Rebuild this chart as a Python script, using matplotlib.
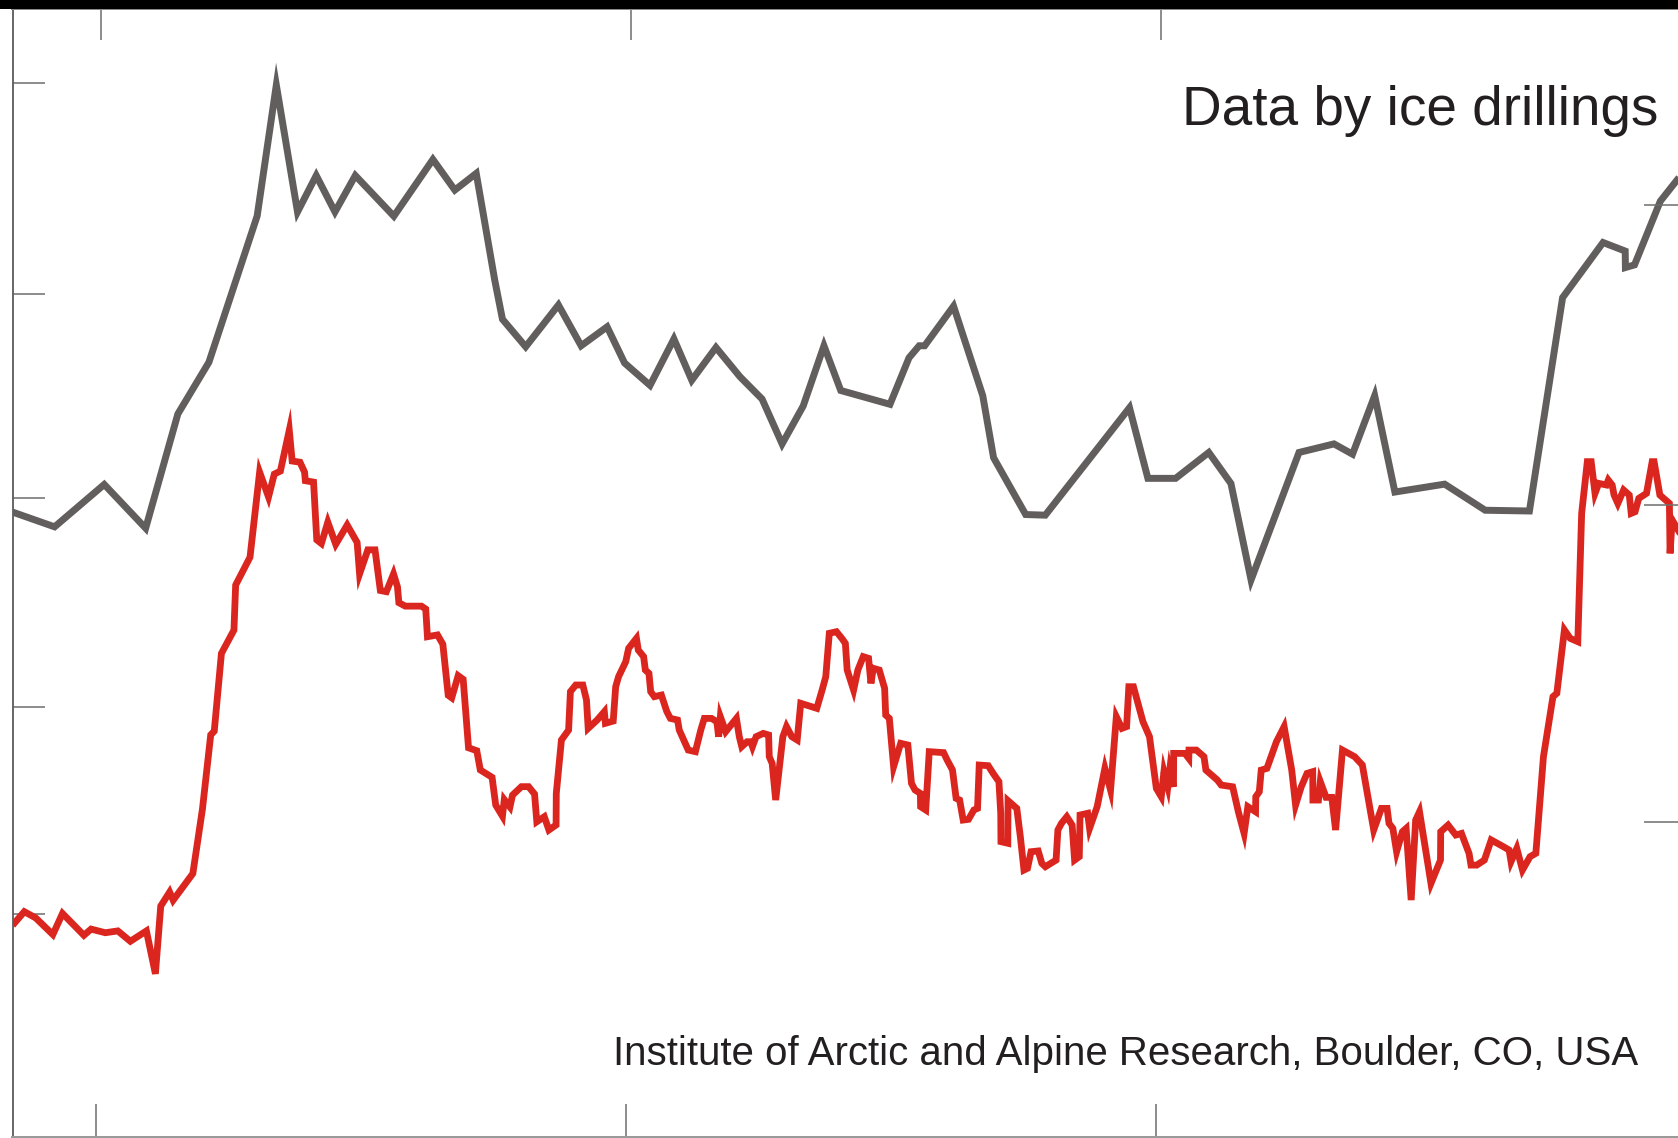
import matplotlib
matplotlib.use("Agg")
import matplotlib.pyplot as plt
from matplotlib.patches import Rectangle

# ---- data (time in arbitrary units, values in arbitrary units) ----
co2_t = [11.7, 51, 97.4, 136.1, 166.2, 195.2, 240.3, 258.2, 278, 295.5, 313, 332,
         368, 404.5, 425, 445, 462.2, 469.5, 491.2, 521.8, 543, 567.3, 583.6, 607.4,
         629.7, 646.4, 669, 691.5, 712.1, 730.8, 750.5, 769.9, 785.6, 831.6, 849.4,
         858.9, 864, 891, 918.3, 928.4, 958.4, 976.7, 1055.4, 1072.6, 1098.5, 1129.5,
         1150.2, 1169, 1213.8, 1246.5, 1263.8, 1284.5, 1303.4, 1349.9, 1387.8, 1429.1,
         1460.1, 1497.9, 1518.6, 1518.8, 1527.3, 1551.4, 1568, 1580]
co2_v = [584.5, 570.7, 610.3, 569.4, 676.2, 724.5, 861.2, 983.5, 865, 899, 865, 899,
         861, 914, 885.4, 901, 801.7, 764.7, 739, 778, 739.9, 757.6, 723.8, 702.9,
         746.3, 707.7, 738.3, 710.9, 690.1, 648.2, 683.6, 739.9, 698.1, 685.2, 728.7,
         739.9, 739.9, 776.9, 693.2, 635.3, 582.2, 581.6, 682, 616, 616, 640.2,
         611.2, 521.1, 640.2, 648.2, 638.6, 693.3, 603.2, 610.6, 586.2, 585.5,
         784.9, 836.4, 828.4, 813, 815.5, 875, 896, 909]

temp_t = [11.7, 22.7, 33.4, 49.4, 58.4, 78.4, 85.1, 98.4, 110.1, 121.8, 136.8, 145.2,
          150.2, 158.5, 161.8, 180.2, 189.2, 196.9, 200.2, 206.9, 218.6, 220.2, 233.6,
          242.6, 250.9, 256.3, 262, 270.3, 273, 280.3, 284.6, 285.3, 293, 296, 300.3,
          306.3, 313.7, 324.4, 333.7, 336, 343.7, 350.4, 355.4, 361, 367.7, 371.4,
          372.7, 378.7, 393.8, 397.8, 399.4, 408.8, 413.8, 418.8, 422.1, 428.1, 432.8,
          437.8, 445.5, 448.8, 459.8, 463.2, 469.5, 471.2, 476.5, 478.9, 487.2, 493.9,
          499.5, 501.6, 508.6, 512.9, 519.6, 519.8, 524.6, 531.3, 533, 538, 544.6, 548,
          549.6, 558, 564.7, 565.7, 573, 575.3, 578, 584.7, 587.4, 594.7, 596.4, 601.4,
          603, 606.4, 608, 611.4, 618, 623.1, 626.4, 633.1, 634.7, 643.1, 649.8, 654.8,
          658.1, 664.8, 669.8, 671.5, 673.1, 678.1, 688.1, 690.8, 693.1, 698.1, 701.5,
          703.1, 706.5, 713.2, 718.2, 718.8, 721.5, 724.8, 731.5, 734.9, 739.9, 744.9,
          748.2, 758.2, 763.2, 768.2, 771.6, 774.9, 781.6, 786.6, 789.9, 791.6, 797.6,
          801.6, 806.6, 811.6, 813.8, 816, 821.6, 826.6, 827.6, 831, 835, 841.6, 848.3,
          851.7, 855, 860, 860.2, 865, 868.3, 881.7, 885, 890, 893.4, 896.7, 900, 905,
          910, 913.4, 915, 923.4, 928.4, 933.4, 935.1, 935.3, 941.7, 941.9, 950.1,
          953.4, 956.8, 960.1, 963.4, 970.1, 973.5, 976.8, 986.8, 988.5, 991.8, 996.8,
          1001.8, 1004.1, 1008.5, 1009.2, 1016.3, 1018.1, 1025.2, 1032.4, 1037.7,
          1043.1, 1048.4, 1052.7, 1054.8, 1059.1, 1068, 1074.1, 1080.5, 1085.1, 1087.6,
          1091.2, 1093, 1096.5, 1096.7, 1107.2, 1110.8, 1111, 1117.9, 1125, 1126.8,
          1137.5, 1141.1, 1151.8, 1157.1, 1162.5, 1166, 1173.2, 1173.4, 1176.7, 1178.5,
          1183.8, 1192.7, 1199.9, 1207, 1210.6, 1215.9, 1221.3, 1226.6, 1226.8, 1232,
          1233.7, 1239.1, 1244.4, 1248, 1254.4, 1265.8, 1273, 1283.6, 1290.8, 1296.1,
          1297.9, 1301.5, 1305, 1310.4, 1313.9, 1318.6, 1322.8, 1326.4, 1337.1, 1346,
          1346.2, 1353.1, 1360.3, 1365.6, 1372.7, 1374.5, 1379.9, 1387, 1393.4, 1404.8,
          1410.1, 1411.9, 1417.3, 1422.6, 1429.7, 1435.1, 1442.2, 1451.1, 1454.7,
          1461.8, 1467.2, 1474.3, 1477.9, 1483.2, 1486.8, 1490.4, 1493.9, 1501, 1502.8,
          1506.4, 1508.2, 1511.7, 1517.1, 1522.4, 1524.2, 1527.8, 1531.3, 1538.5,
          1543.8, 1545.6, 1551, 1559.9, 1560.5, 1562.5, 1568, 1580]
temp_v = [198.3, 211.1, 205.2, 189.7, 209.4, 189, 194.8, 191.4, 193.1, 183.4, 193.1, 153,
          216.3, 229.4, 221.8, 246.7, 307.2, 376.3, 379.8, 452.4, 474.2, 516.3, 542.3,
          621.8, 598.6, 620, 622.8, 661, 632.2, 631.1, 621.8, 613.8, 612.5, 558.5, 555.1,
          575.1, 554.4, 572.4, 556.1, 526.7, 549.2, 549.2, 511.2, 510.1, 526.7, 514.6,
          499.8, 496.6, 496.6, 493.9, 468, 469.7, 461, 413.3, 410.9, 431.6, 428.2,
          364.2, 361.5, 343.5, 336.6, 310.7, 300.3, 315.8, 308.9, 320, 327.9, 327.9,
          321, 295.1, 299.8, 287.4, 292.1, 321.6, 371.5, 380.8, 416.7, 422.9, 422.9, 408.9,
          382.4, 390.2, 398, 387.1, 389.2, 421.3, 430.7, 444.7, 457.2, 466.5, 455.6, 449.4,
          436.9, 433.8, 416.7, 412, 413.5, 398, 391.7, 390.2, 380.8, 362.1, 360.6, 380.8,
          391.7, 391.7, 388.6, 374.6, 393.3, 379.3, 391.7, 374.6, 365.3, 369.9, 369.9,
          365.3, 374.6, 377.7, 376.2, 355.9, 349.7, 315.4, 374.6, 384, 374.6, 371.5,
          405.8, 402.6, 401.1, 418.2, 430.7, 471.2, 472.7, 466.5, 461.8, 436.9, 418.2,
          436.9, 449.4, 447.8, 424.4, 438.5, 436.9, 419.8, 394.8, 391.7, 346.6, 368.4, 366.8,
          331, 324.8, 321.6, 309.2, 306.1, 360.6, 359.7, 352.8, 343.5, 317, 315.4, 296.7, 297.4,
          306.1, 307.6, 348.1, 347.5, 339.7, 332.6, 303, 276.5, 275, 314.8, 307.6,
          281.2, 250, 251.6, 267.1, 267.8, 256.2, 253.1, 259.3, 287.4, 293.6, 299.8,
          292, 259.3, 262.5, 301.4, 303, 288.9, 309.2, 345, 324.7,
          393.3, 382.4, 384, 421.3, 421.3, 388.6, 374.6, 326.3, 318.5, 341.9,
          327.8, 343.4, 327.8, 359, 359, 354.3, 362.1, 362.1, 355.9, 343.4,
          334.1, 329.4, 327.8, 304.5, 284.2, 309.2, 304.5, 318.5, 323.2, 343.4,
          345, 369.9, 384, 343.4, 310.7, 327.8, 340.3, 341.9, 315.4, 315.4,
          332.6, 317.9, 317.9, 287.4, 362.1, 355.9, 348.1, 287.4, 307.6, 307.6,
          293.6, 288.9, 267.1, 285.8, 288.9, 221.9, 296.7, 304.5, 237.5, 259.3,
          285.8, 292, 282.7, 284.2, 265.5, 254.6, 254.6, 259.3, 278.1, 271.8,
          268.7, 257.8, 270.2, 250, 262.5, 265.6, 355.9, 412, 415.1,
          474.3, 466.5, 463.4, 583.3, 631.6, 631.6, 602, 611.3, 609.8, 614.4,
          609.8, 600.4, 592.6, 605.1, 600.4, 583.3, 584.8, 597.3, 602,
          631.6, 631.6, 600.4, 592.6, 545.9, 577.1, 567.7, 580]

bottom_ticks = [89.4, 585.0, 1080.6]
top_ticks = [94.0, 589.5, 1085.0]
left_ticks = [208.8, 402.3, 597.3, 788.1, 985.35]
right_ticks = [295.2, 590.9, 871.8]

title_text = "Data by ice drillings"
source_text = "Institute of Arctic and Alpine Research, Boulder, CO, USA"

# ---- figure ----
W, H = 1678, 1138
fig = plt.figure(figsize=(W / 100, H / 100), dpi=100)
fig.patch.set_facecolor("white")

ax_left, ax_bottom = 12.5 / W, 1.3 / H
ax_w = (1680 - 12.5) / W
ax_h = (H - 9 - 1.3) / H
ax = fig.add_axes([ax_left, ax_bottom, ax_w, ax_h])
ax.set_xlim(11.68, 1569.8)
ax.set_ylim(0.8, 1054.6)

gray = "#625e5d"
red = "#db261f"
ax.plot(co2_t, co2_v, color=gray, lw=5.0, solid_joinstyle="miter",
        solid_capstyle="butt", zorder=3)
ax.plot(temp_t, temp_v, color=red, lw=4.9, solid_joinstyle="miter",
        solid_capstyle="butt", zorder=4)

tick_col = "#6e6e6e"
ax.set_xticks(bottom_ticks)
ax.set_yticks(left_ticks)
ax.tick_params(axis="both", direction="in", length=23, width=1.1, color=tick_col,
               labelbottom=False, labelleft=False)
ax.tick_params(axis="x", length=24)

axt = ax.twiny()
axt.set_xlim(ax.get_xlim())
axt.set_xticks(top_ticks)
axt.tick_params(axis="x", direction="in", length=22.5, width=1.1, color=tick_col,
                labeltop=False)

axr = ax.twinx()
axr.set_ylim(ax.get_ylim())
axr.set_yticks(right_ticks)
axr.tick_params(axis="y", direction="in", length=26, width=1.1, color=tick_col,
                labelright=False)

for a in (ax, axt, axr):
    a.spines["right"].set_visible(False)
    a.spines["left"].set_color("#5a5a5a")
    a.spines["left"].set_linewidth(1.3)
    a.spines["top"].set_color("#8a8a8a")
    a.spines["top"].set_linewidth(1.3)
    a.spines["bottom"].set_color("#9a9a9a")
    a.spines["bottom"].set_linewidth(1.3)
    a.patch.set_visible(False)
axt.spines["left"].set_visible(False)
axr.spines["left"].set_visible(False)

# black band at the top
fig.patches.append(Rectangle((0, 1 - 8.5 / H), 1, 8.5 / H, transform=fig.transFigure,
                             facecolor="black", edgecolor="none", zorder=10))

fig.text(1658.4 / W, 1 - 125 / H, title_text, ha="right", va="baseline",
         fontsize=39.5, family="Liberation Sans", color="#231f20")
fig.text(1638.2 / W, 1 - 1065 / H, source_text, ha="right", va="baseline",
         fontsize=29, family="Liberation Sans", color="#231f20")

fig.savefig("out.png", dpi=100)
